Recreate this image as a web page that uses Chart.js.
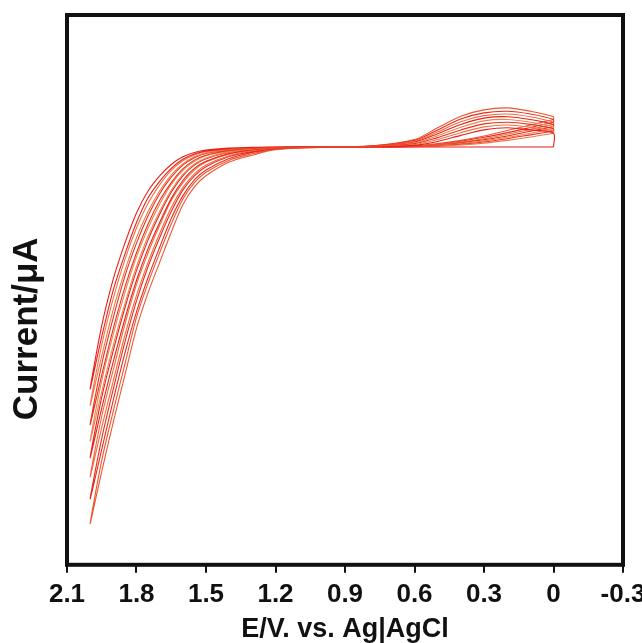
<!DOCTYPE html>
<html>
<head>
<meta charset="utf-8">
<script src="https://cdn.jsdelivr.net/npm/chart.js@4.4.0/dist/chart.umd.min.js"></script>
<style>
  html, body { margin: 0; padding: 0; background: #fff; }
  #wrap { width: 642px; height: 643px; }
</style>
</head>
<body>
<div id="wrap"><canvas id="cvChart"></canvas></div>
<script>
// potential grid (V vs Ag|AgCl), shared by every scan
const potential = [0, 0.1, 0.2, 0.3, 0.4, 0.5, 0.6, 0.8, 1.0, 1.2, 1.3, 1.4, 1.5, 1.55, 1.6, 1.65, 1.7, 1.75, 1.8, 1.85, 1.9, 1.95, 2.0];

// anodic sweeps (0 -> 2.0 V), one per cycle, current in arbitrary µA
const forwardScans = [
  [0, 0, 0, 0, 0, 0, 0, 0, 0, 0, -0.02, -0.06, -0.15, -0.26, -0.45, -0.78, -1.25, -1.85, -2.75, -3.9, -5.2, -6.9, -8.8],
  [0.5, 0.36, 0.24, 0.14, 0.07, 0.03, 0.01, 0, 0, -0.01, -0.03, -0.09, -0.22, -0.36, -0.62, -1.02, -1.6, -2.35, -3.3, -4.5, -5.9, -7.6, -9.4],
  [0.58, 0.44, 0.3, 0.18, 0.1, 0.05, 0.02, 0, 0, -0.01, -0.05, -0.13, -0.3, -0.48, -0.8, -1.3, -1.95, -2.8, -3.85, -5.1, -6.6, -8.3, -10.1],
  [0.66, 0.5, 0.35, 0.22, 0.12, 0.06, 0.02, 0, 0, -0.02, -0.07, -0.18, -0.4, -0.62, -1.0, -1.58, -2.35, -3.25, -4.35, -5.7, -7.2, -8.9, -10.7],
  [0.74, 0.57, 0.4, 0.26, 0.15, 0.07, 0.03, 0, 0, -0.03, -0.1, -0.24, -0.52, -0.78, -1.22, -1.88, -2.75, -3.7, -4.85, -6.25, -7.8, -9.5, -11.3],
  [0.82, 0.64, 0.46, 0.3, 0.18, 0.09, 0.03, 0, 0, -0.04, -0.14, -0.32, -0.66, -0.98, -1.48, -2.2, -3.15, -4.2, -5.4, -6.85, -8.5, -10.2, -12.0],
  [0.9, 0.71, 0.52, 0.35, 0.21, 0.1, 0.04, 0, 0, -0.06, -0.2, -0.42, -0.84, -1.2, -1.78, -2.6, -3.65, -4.75, -6.0, -7.5, -9.2, -11.0, -12.8],
  [1.0, 0.8, 0.6, 0.4, 0.24, 0.12, 0.04, 0, -0.02, -0.1, -0.3, -0.55, -1.05, -1.45, -2.1, -3.1, -4.2, -5.3, -6.6, -8.3, -10.0, -11.8, -13.7]
];

// cathodic sweeps (2.0 -> 0 V), listed on the same ascending grid
const reverseScans = [
  [0.5, 0.62, 0.7, 0.62, 0.42, 0.2, 0.06, 0, 0, 0, -0.01, -0.04, -0.11, -0.2, -0.36, -0.64, -1.05, -1.6, -2.4, -3.5, -4.8, -6.5, -8.8],
  [0.58, 0.72, 0.8, 0.73, 0.52, 0.27, 0.09, 0.01, 0, -0.01, -0.02, -0.07, -0.17, -0.29, -0.5, -0.85, -1.38, -2.05, -2.95, -4.1, -5.5, -7.2, -9.4],
  [0.66, 0.82, 0.9, 0.84, 0.62, 0.34, 0.12, 0.01, 0, -0.01, -0.04, -0.1, -0.24, -0.39, -0.66, -1.1, -1.7, -2.5, -3.5, -4.7, -6.2, -7.9, -10.1],
  [0.74, 0.9, 1.0, 0.95, 0.72, 0.41, 0.15, 0.01, 0, -0.02, -0.05, -0.14, -0.32, -0.52, -0.85, -1.36, -2.08, -2.95, -4.0, -5.3, -6.8, -8.5, -10.7],
  [0.82, 1.0, 1.1, 1.05, 0.82, 0.48, 0.18, 0.02, 0, -0.02, -0.08, -0.19, -0.43, -0.66, -1.05, -1.65, -2.45, -3.38, -4.5, -5.85, -7.4, -9.1, -11.3],
  [0.9, 1.1, 1.2, 1.14, 0.92, 0.55, 0.21, 0.02, 0, -0.03, -0.11, -0.26, -0.55, -0.84, -1.3, -1.95, -2.85, -3.85, -5.0, -6.45, -8.1, -9.8, -12.0],
  [1.0, 1.2, 1.3, 1.24, 1.02, 0.62, 0.24, 0.02, 0, -0.05, -0.16, -0.35, -0.72, -1.05, -1.57, -2.35, -3.3, -4.35, -5.6, -7.1, -8.8, -10.6, -12.8],
  [1.1, 1.3, 1.42, 1.35, 1.12, 0.7, 0.27, 0.03, 0, -0.08, -0.25, -0.48, -0.92, -1.3, -1.9, -2.8, -3.85, -4.95, -6.2, -7.9, -9.6, -11.4, -13.7]
];

const xTickValues = [2.1, 1.8, 1.5, 1.2, 0.9, 0.6, 0.3, 0, -0.3];
const lineColors = ['#e81f1a', '#f27446', '#e5321f', '#f0844f', '#e3221c', '#f26a3a', '#e52b1e', '#ee5530'];

const datasets = forwardScans.map((fwd, i) => {
  const rev = reverseScans[i];
  const pts = potential.map((e, j) => ({ x: e, y: fwd[j] }));
  for (let j = potential.length - 2; j >= 0; j--) {
    pts.push({ x: potential[j], y: rev[j] });
  }
  pts.push({ x: potential[0], y: fwd[0] });
  return {
    data: pts,
    showLine: true,
    borderColor: lineColors[i],
    borderWidth: 1.1,
    pointRadius: 0,
    tension: 0.3,
    fill: false
  };
});

// black box round the plot area
const frame = {
  id: 'frame',
  afterDraw(chart) {
    const { ctx, chartArea: a } = chart;
    ctx.save();
    ctx.strokeStyle = '#111';
    ctx.lineWidth = 4;
    ctx.strokeRect(a.left, a.top, a.right - a.left, a.bottom - a.top);
    ctx.restore();
  }
};

const ctx = document.getElementById('cvChart').getContext('2d');
new Chart(ctx, {
  type: 'scatter',
  data: { datasets },
  plugins: [frame],
  options: {
    responsive: true,
    maintainAspectRatio: false,
    animation: false,
    layout: { padding: { top: 15, left: 0, right: 0, bottom: 0 } },
    plugins: { legend: { display: false }, tooltip: { enabled: false } },
    scales: {
      x: {
        type: 'linear',
        reverse: true,
        min: -0.3,
        max: 2.1,
        afterBuildTicks: s => { s.ticks = xTickValues.map(v => ({ value: v })); },
        afterFit: s => { s.paddingRight = 19; },
        ticks: {
          color: '#111',
          padding: 6,
          maxRotation: 0,
          autoSkip: false,
          font: { family: 'Liberation Sans', size: 26, weight: 'bold' },
          callback: v => (v === 0 ? '0' : v.toFixed(1))
        },
        grid: { display: true, drawOnChartArea: false, drawTicks: true, tickLength: 8, color: '#111', lineWidth: 2 },
        border: { display: false },
        title: {
          display: true,
          text: 'E/V. vs. Ag|AgCl',
          color: '#111',
          font: { family: 'Liberation Sans', size: 27, weight: 'bold', lineHeight: 1.0 },
          padding: { top: 0, bottom: 0 }
        }
      },
      y: {
        min: -15.2,
        max: 4.8,
        ticks: { display: false },
        grid: { display: false },
        border: { display: false },
        title: {
          display: true,
          // trailing spaces push the label down, as in the original
          text: 'Current/μA        ',
          color: '#111',
          font: { family: 'Liberation Sans', size: 35, weight: 'bold' },
          padding: { top: 6, bottom: 11 }
        }
      }
    }
  }
});
</script>
</body>
</html>
